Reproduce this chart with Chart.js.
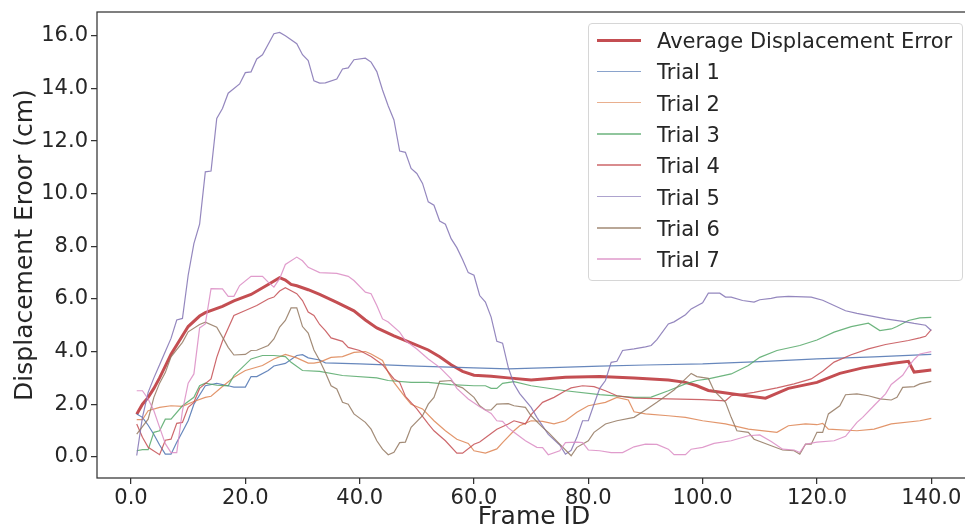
<!DOCTYPE html>
<html>
<head>
<meta charset="utf-8">
<script src="https://cdn.jsdelivr.net/npm/chart.js@4.4.1/dist/chart.umd.min.js"></script>
<style>
  html, body { margin: 0; padding: 0; background: #fff; overflow: hidden; }
  #wrap { position: relative; width: 965px; height: 530px; overflow: hidden; }
  #chart { position: absolute; left: 0; top: 0; }
  #legend {
    position: absolute; left: 588px; top: 23px; width: 373px; height: 256px;
    border: 1px solid #d6d6d6; border-radius: 4px; background: rgba(255,255,255,0.8);
    font-family: "DejaVu Sans", sans-serif; font-size: 21px; color: #262626;
  }
  .row { position: absolute; left: 0; height: 30px; }
  .row .ln { position: absolute; left: 8px; width: 44px; top: 14px; }
  .row .tx { position: absolute; left: 68px; top: 2px; white-space: nowrap; line-height: 26px; }
</style>
</head>
<body>
<div id="wrap">
  <!-- canvas is a bit wider than the window so the right spine falls just outside, as in the original -->
  <canvas id="chart" width="985" height="530" style="width:985px;height:530px"></canvas>
  <div id="legend"></div>
</div>
<script>
// series names and colours (seaborn "deep")
const seriesNames = ['Average Displacement Error', 'Trial 1', 'Trial 2', 'Trial 3', 'Trial 4', 'Trial 5', 'Trial 6', 'Trial 7'];
const seriesColors = ['#c44e52', '#4c72b0', '#dd8452', '#55a868', '#c44e52', '#8172b3', '#937860', '#da8bc3'];

const xTicks = [0, 20, 40, 60, 80, 100, 120, 140];
const yTicks = [0, 2, 4, 6, 8, 10, 12, 14, 16];

// [frame, error]
const avgPts = [[1,1.62],[2,2.0],[3,2.26],[4,2.6],[5,3.0],[6,3.45],[7,3.9],[8,4.25],[10,4.95],[12,5.35],[13,5.48],[16,5.72],[18,5.93],[21,6.17],[24,6.55],[26,6.81],[27,6.72],[28,6.55],[29,6.5],[31,6.35],[33,6.17],[36,5.87],[39,5.55],[41,5.2],[43,4.9],[46,4.6],[49,4.33],[52,4.06],[54,3.8],[56,3.5],[58,3.25],[60,3.1],[63,3.06],[66,3.0],[70,2.92],[76,3.02],[82,3.05],[88,3.0],[94,2.92],[97,2.83],[99,2.7],[101,2.52],[106,2.37],[111,2.23],[115,2.6],[120,2.83],[124,3.17],[128,3.38],[133,3.55],[136,3.63],[137,3.22],[140,3.3]];

const trial1 = [[1,1.63],[2,1.5],[3,1.2],[4,0.85],[5,0.45],[6,0.1],[7,0.1],[8,0.55],[9,0.95],[10,1.37],[11,2.0],[13,2.7],[15,2.79],[17,2.7],[18,2.65],[20,2.65],[21,3.05],[22,3.05],[24,3.28],[25,3.45],[27,3.55],[29,3.85],[30,3.88],[31,3.76],[33,3.68],[34,3.57],[40,3.53],[50,3.45],[60,3.38],[66,3.34],[75,3.4],[82,3.45],[90,3.49],[100,3.53],[110,3.62],[120,3.72],[130,3.8],[140,3.89]];

const trial2 = [[1,1.41],[2,1.41],[3,1.75],[5,1.88],[7,1.94],[9,1.92],[11,2.1],[13,2.26],[14,2.3],[16,2.67],[18,3.02],[20,3.28],[23,3.47],[25,3.72],[27,3.89],[29,3.76],[31,3.56],[32,3.56],[33,3.6],[35,3.78],[37,3.81],[39,3.97],[41,4.0],[42,3.91],[44,3.66],[45,3.21],[46,2.83],[48,2.26],[49,2.0],[51,1.82],[53,1.37],[55,0.99],[57,0.67],[59,0.51],[60,0.23],[62,0.14],[64,0.3],[65,0.54],[67,0.99],[68,1.18],[70,1.37],[72,1.35],[74,1.25],[76,1.37],[78,1.69],[80,1.94],[83,2.07],[85,2.26],[87,2.16],[88,1.71],[90,1.63],[94,1.56],[97,1.5],[100,1.37],[104,1.25],[108,1.05],[113,0.93],[115,1.18],[118,1.25],[120,1.22],[121,1.27],[122,1.05],[127,0.99],[130,1.05],[133,1.25],[138,1.37],[140,1.46]];

const trial3 = [[1,0.23],[2,0.27],[3,0.27],[4,0.93],[5,0.99],[6,1.43],[7,1.43],[9,1.94],[11,2.26],[12,2.7],[13,2.8],[15,2.72],[17,2.7],[18,3.09],[21,3.72],[23,3.85],[25,3.85],[27,3.81],[28,3.59],[30,3.28],[33,3.25],[37,3.09],[43,3.0],[45,2.9],[49,2.83],[52,2.83],[56,2.74],[60,2.7],[62,2.7],[63,2.6],[64,2.6],[65,2.79],[67,2.86],[70,2.7],[76,2.51],[82,2.36],[88,2.26],[91,2.27],[94,2.51],[97,2.77],[99,2.9],[101,2.96],[105,3.15],[108,3.47],[110,3.78],[113,4.04],[117,4.23],[120,4.44],[123,4.74],[126,4.95],[129,5.08],[131,4.8],[133,4.86],[134,4.95],[136,5.18],[138,5.28],[140,5.3]];

const trial4 = [[1,1.25],[2,0.74],[3,0.36],[5,0.08],[6,0.63],[7,0.67],[8,1.27],[9,1.31],[10,1.88],[11,2.07],[12,2.6],[14,2.96],[15,3.78],[16,4.4],[18,5.37],[20,5.56],[22,5.75],[24,6.0],[25,6.07],[26,6.3],[27,6.43],[29,6.2],[30,5.94],[31,5.5],[32,5.37],[33,5.03],[34,4.8],[35,4.52],[37,4.39],[38,4.16],[40,4.04],[42,3.81],[44,3.5],[46,2.96],[47,2.83],[48,2.3],[50,1.82],[52,1.25],[53,0.99],[55,0.61],[57,0.14],[58,0.14],[60,0.48],[61,0.56],[63,0.89],[64,1.05],[66,1.25],[67,1.37],[69,1.25],[70,1.6],[72,2.07],[74,2.26],[76,2.51],[77,2.62],[79,2.7],[81,2.67],[83,2.51],[85,2.32],[88,2.23],[94,2.2],[100,2.17],[104,2.13],[105,2.32],[109,2.45],[113,2.62],[116,2.77],[119,2.96],[121,3.25],[123,3.6],[126,3.88],[129,4.1],[132,4.27],[136,4.42],[138,4.52],[139,4.58],[140,4.83]];

const trial5 = [[1,0.05],[2,1.5],[3,2.45],[4,3.0],[5,3.5],[6,4.0],[7,4.5],[8,5.2],[9,5.26],[10,6.9],[11,8.1],[12,8.84],[13,10.83],[14,10.86],[15,12.86],[16,13.24],[17,13.82],[19,14.17],[20,14.6],[21,14.63],[22,15.12],[23,15.28],[25,16.08],[26,16.13],[27,16.0],[29,15.7],[30,15.28],[31,15.06],[32,14.29],[33,14.2],[34,14.21],[36,14.36],[37,14.74],[38,14.78],[39,15.09],[41,15.15],[42,15.0],[43,14.64],[44,13.94],[45,13.33],[46,12.8],[47,11.62],[48,11.57],[49,10.96],[50,10.77],[51,10.39],[52,9.69],[53,9.56],[54,8.96],[55,8.84],[56,8.29],[57,7.95],[58,7.5],[59,7.0],[60,6.9],[61,6.13],[62,5.88],[63,5.31],[64,4.39],[65,4.32],[66,3.4],[67,2.77],[68,2.4],[70,1.88],[71,1.5],[73,0.85],[75,0.45],[76,0.1],[77,0.25],[78,0.74],[79,1.37],[80,1.37],[81,2.0],[82,2.6],[83,2.9],[84,3.59],[85,3.63],[86,4.04],[88,4.1],[90,4.18],[91,4.23],[92,4.45],[94,5.05],[95,5.13],[97,5.4],[98,5.62],[100,5.85],[101,6.22],[103,6.22],[104,6.07],[105,6.07],[107,5.94],[109,5.88],[110,5.97],[112,6.02],[113,6.07],[115,6.1],[119,6.07],[121,5.95],[123,5.75],[125,5.55],[127,5.45],[130,5.33],[132,5.24],[135,5.15],[137,5.07],[139,5.0],[140,4.8]];

const trial6 = [[1,0.86],[3,1.43],[4,2.26],[5,2.8],[6,3.2],[7,3.8],[9,4.35],[10,4.75],[12,5.03],[13,5.12],[15,4.93],[16,4.55],[17,4.16],[18,3.87],[20,3.89],[21,4.04],[22,4.05],[24,4.23],[25,4.48],[26,4.93],[27,5.18],[28,5.66],[29,5.66],[30,4.95],[31,4.7],[32,4.06],[33,3.66],[34,3.2],[35,2.7],[36,2.58],[37,2.07],[38,2.0],[39,1.63],[41,1.31],[42,1.05],[43,0.61],[44,0.29],[45,0.08],[46,0.17],[47,0.54],[48,0.56],[49,1.12],[51,1.56],[52,2.0],[53,2.26],[54,2.87],[56,2.9],[57,2.7],[58,2.62],[60,2.26],[61,1.94],[62,1.78],[63,1.78],[64,2.0],[66,2.02],[67,1.94],[69,1.88],[70,1.56],[72,1.12],[73,0.93],[75,0.48],[77,0.04],[78,0.36],[80,0.61],[81,0.93],[83,1.25],[85,1.37],[88,1.5],[90,1.78],[92,2.07],[95,2.54],[97,2.96],[98,3.17],[99,3.05],[101,2.98],[102,2.51],[104,2.07],[105,1.5],[106,0.99],[108,0.93],[109,0.67],[112,0.42],[114,0.26],[116,0.23],[117,0.1],[118,0.48],[119,0.48],[120,0.93],[121,0.93],[122,1.63],[124,1.94],[125,2.36],[127,2.39],[129,2.32],[131,2.2],[133,2.16],[134,2.26],[135,2.64],[137,2.67],[138,2.77],[140,2.87]];

const trial7 = [[1,2.51],[2,2.51],[3,2.2],[4,1.75],[5,1.12],[6,0.5],[7,0.16],[8,0.16],[9,1.75],[10,2.8],[11,3.15],[12,4.9],[13,5.05],[14,6.39],[16,6.38],[17,6.1],[18,6.1],[19,6.51],[21,6.86],[23,6.86],[24,6.64],[25,6.45],[26,6.77],[27,7.31],[29,7.59],[30,7.45],[31,7.2],[33,7.0],[36,6.97],[38,6.86],[39,6.7],[41,6.26],[42,6.2],[43,5.75],[44,5.24],[45,5.12],[47,4.74],[48,4.42],[50,4.1],[52,3.72],[54,3.4],[56,2.96],[57,2.6],[59,2.2],[61,1.9],[63,1.65],[64,1.37],[65,1.35],[66,1.1],[67,0.93],[69,0.61],[71,0.36],[72,0.35],[73,0.08],[75,0.23],[76,0.54],[78,0.56],[79,0.54],[80,0.26],[82,0.23],[84,0.16],[86,0.16],[88,0.38],[90,0.48],[92,0.47],[94,0.29],[95,0.08],[97,0.08],[98,0.29],[100,0.36],[102,0.51],[105,0.61],[108,0.8],[110,0.83],[112,0.58],[114,0.29],[116,0.26],[117,0.16],[118,0.48],[120,0.56],[123,0.61],[125,0.78],[127,1.31],[128,1.5],[130,1.95],[132,2.39],[133,2.75],[135,3.1],[136,3.43],[137,3.7],[138,3.91],[140,4.0]];

const allSeries = [avgPts, trial1, trial2, trial3, trial4, trial5, trial6, trial7];

function alpha(hex, a) {
  const n = parseInt(hex.slice(1), 16);
  return `rgba(${(n >> 16) & 255},${(n >> 8) & 255},${n & 255},${a})`;
}

const datasets = allSeries.map((pts, i) => ({
  label: seriesNames[i],
  data: pts.map(p => ({ x: p[0], y: p[1] })),
  borderColor: i === 0 ? seriesColors[0] : alpha(seriesColors[i], 0.85),
  borderWidth: i === 0 ? 3 : 1.2,
  pointRadius: 0,
  tension: 0,
  fill: false,
  order: i === 0 ? 8 : 8 - i,
}));

const font = 'DejaVu Sans';
const ink = '#262626';

// box around the plotting area, like matplotlib spines
const framePlugin = {
  id: 'frame',
  afterDraw(chart) {
    const { ctx, chartArea: a } = chart;
    ctx.save();
    ctx.strokeStyle = '#333';
    ctx.lineWidth = 1.25;
    ctx.strokeRect(a.left, a.top, a.right - a.left, a.bottom - a.top);
    ctx.restore();
  }
};

new Chart(document.getElementById('chart'), {
  type: 'line',
  data: { datasets },
  plugins: [framePlugin],
  options: {
    responsive: false,
    animation: false,
    devicePixelRatio: 1,
    layout: { padding: { top: 12, right: 14, left: 0, bottom: 0 } },
    plugins: { legend: { display: false }, tooltip: { enabled: false } },
    scales: {
      x: {
        type: 'linear',
        min: -5.95,
        max: 146.95,
        afterBuildTicks: s => { s.ticks = xTicks.map(v => ({ value: v })); },
        afterFit: s => { s.height = 52; s.paddingLeft = 0; s.paddingRight = 0; },
        ticks: { color: ink, font: { family: font, size: 21 }, padding: 2, maxRotation: 0,
                 callback: v => Number(v).toFixed(1) },
        grid: { drawOnChartArea: false, drawTicks: true, tickLength: 6, color: '#333', lineWidth: 1.25 },
        border: { display: false },
        title: { display: true, text: 'Frame ID', color: ink,
                 font: { family: font, size: 25, lineHeight: 1 }, padding: { top: 0, bottom: 0 } }
      },
      y: {
        type: 'linear',
        min: -0.805,
        max: 16.905,
        afterBuildTicks: s => { s.ticks = yTicks.map(v => ({ value: v })); },
        afterFit: s => { s.width = 97; s.paddingTop = 0; s.paddingBottom = 0; },
        ticks: { color: ink, font: { family: font, size: 21 }, padding: 3,
                 callback: v => Number(v).toFixed(1) },
        grid: { drawOnChartArea: false, drawTicks: true, tickLength: 6, color: '#333', lineWidth: 1.25 },
        border: { display: false },
        title: { display: true, text: 'Displacement Eroor (cm)', color: ink,
                 font: { family: font, size: 25, lineHeight: 1 }, padding: { top: 13, bottom: 0 } }
      }
    }
  }
});

// legend box drawn as html so the labels stay text
const legendEl = document.getElementById('legend');
seriesNames.forEach((name, i) => {
  const row = document.createElement('div');
  row.className = 'row';
  row.style.top = (2 + i * 31.3) + 'px';
  const ln = document.createElement('div');
  ln.className = 'ln';
  const w = i === 0 ? 3 : 1.5;
  ln.style.height = w + 'px';
  ln.style.marginTop = (-w / 2) + 'px';
  ln.style.background = i === 0 ? seriesColors[0] : alpha(seriesColors[i], 0.65);
  const tx = document.createElement('div');
  tx.className = 'tx';
  tx.textContent = name;
  row.appendChild(ln);
  row.appendChild(tx);
  legendEl.appendChild(row);
});
</script>
</body>
</html>
